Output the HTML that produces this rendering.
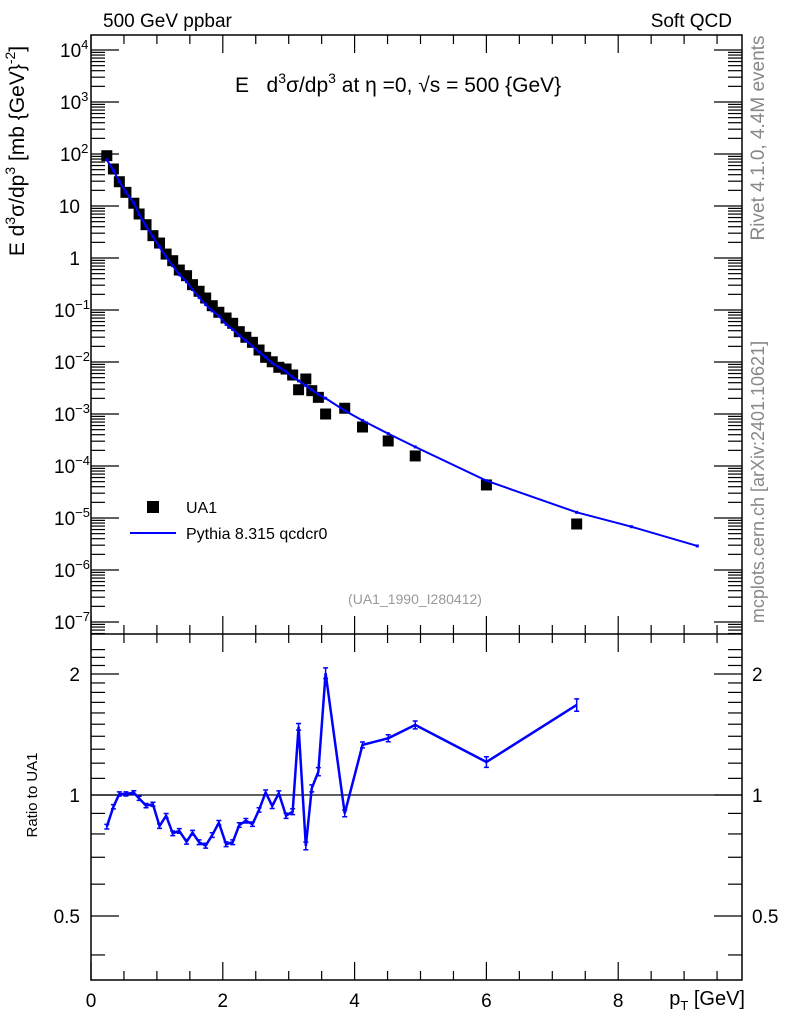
<!DOCTYPE html>
<html><head><meta charset="utf-8"><style>
html,body{margin:0;padding:0;background:#fff;}
svg text{font-family:"Liberation Sans",sans-serif;}
</style></head><body>
<svg id="chart" width="786" height="1024" viewBox="0 0 786 1024" xmlns="http://www.w3.org/2000/svg">
<g id="axes"></g>
<g id="marks"></g>
<text x="103" y="27" font-size="19">500 GeV ppbar</text>
<text x="732" y="27" font-size="19" text-anchor="end">Soft QCD</text>
<text x="235" y="92" font-size="21">E&#160;&#160;&#160;d<tspan font-size="14" dy="-9">3</tspan><tspan dy="9">σ/dp</tspan><tspan font-size="14" dy="-9">3</tspan><tspan dy="9"> at η =0, √s = 500 {GeV}</tspan></text>
<text transform="translate(24,151) rotate(-90)" font-size="21" text-anchor="middle">E d<tspan font-size="14" dy="-9">3</tspan><tspan dy="9">σ/dp</tspan><tspan font-size="14" dy="-9">3</tspan><tspan dy="9"> [mb {GeV}</tspan><tspan font-size="14" dy="-9">-2</tspan><tspan dy="9">]</tspan></text>
<text transform="translate(764,138) rotate(-90)" font-size="19" fill="#888" text-anchor="middle">Rivet 4.1.0,  4.4M events</text>
<text transform="translate(764,482) rotate(-90)" font-size="18" fill="#888" text-anchor="middle">mcplots.cern.ch [arXiv:2401.10621]</text>
<text x="415" y="604" font-size="14" fill="#999" text-anchor="middle">(UA1_1990_I280412)</text>
<rect x="147" y="501" width="12" height="12" fill="#000"/>
<text x="186" y="513" font-size="16">UA1</text>
<line x1="130" y1="533" x2="176" y2="533" stroke="#0000ff" stroke-width="2"/>
<text x="186" y="539" font-size="16">Pythia 8.315 qcdcr0</text>
<text transform="translate(37,795) rotate(-90)" font-size="15" text-anchor="middle">Ratio to UA1</text>
<text x="745" y="1005" font-size="20" text-anchor="end">p<tspan font-size="13" dy="5">T</tspan><tspan dy="-5"> [GeV]</tspan></text>
</svg>
<script>
const xs = [0.24,0.34,0.43,0.53,0.65,0.73,0.835,0.94,1.04,1.14,1.24,1.34,1.45,1.54,1.64,1.74,1.84,1.94,2.05,2.15,2.25,2.35,2.45,2.55,2.65,2.75,2.85,2.96,3.06,3.15,3.26,3.35,3.45,3.56,3.85,4.12,4.51,4.92,6.0,7.37];
const ua1 = [92.7,51.5,29.3,18.3,11.3,7.02,4.37,2.69,1.94,1.19,0.887,0.587,0.457,0.307,0.229,0.170,0.121,0.0904,0.0701,0.0555,0.0383,0.0299,0.0239,0.0170,0.0123,0.0101,0.00791,0.00733,0.00562,0.00293,0.00471,0.00281,0.00209,0.00100,0.00129,5.62e-4,3.03e-4,1.56e-4,4.32e-5,7.67e-6];
const ratio = [0.834,0.935,1.006,1.006,1.013,0.981,0.941,0.948,0.837,0.888,0.803,0.814,0.765,0.806,0.763,0.748,0.795,0.853,0.754,0.763,0.842,0.863,0.846,0.918,1.015,0.939,1.01,0.888,0.909,1.478,0.747,1.039,1.143,2.01,0.90,1.332,1.384,1.494,1.208,1.675];
const ratioErr = [0.006,0.006,0.006,0.006,0.006,0.006,0.006,0.006,0.006,0.006,0.006,0.006,0.006,0.006,0.006,0.006,0.006,0.006,0.006,0.006,0.006,0.006,0.006,0.006,0.008,0.008,0.008,0.008,0.01,0.02,0.012,0.015,0.02,0.05,0.012,0.015,0.02,0.025,0.03,0.05];
const pyExtraX = [8.2,9.2];
const pyExtraY = [6.8e-6,2.9e-6];
const xTicks = [0,2,4,6,8];
const yExps = [-7,-6,-5,-4,-3,-2,-1,0,1,2,3,4];
const yLabels = ["10","10","10","10","10","10","10","1","10","10","10","10"];
const ySups = ["−7","−6","−5","−4","−3","−2","−1","","","2","3","4"];
const rTicks = [0.5,1,2];
const rLabels = ["0.5","1","2"];

const L=91,R=742,T=35,M=634,B=980;
const X = v => L + v*65.9;
const Y = v => 258 - Math.log10(v)*52;
const RY = v => 795 - Math.log2(v)*121;
const NS="http://www.w3.org/2000/svg";
const axes=document.getElementById('axes'), marks=document.getElementById('marks');
function mk(tag,attrs,parent){const e=document.createElementNS(NS,tag);for(const k in attrs)e.setAttribute(k,attrs[k]);parent.appendChild(e);return e;}

let fr=mk('rect',{x:L,y:T,width:R-L,height:B-T,fill:'none',stroke:'#000','stroke-width':1.5},axes);


let sep=mk('line',{x1:L,y1:M,x2:R,y2:M,stroke:'#000','stroke-width':1.5},axes);


let one=mk('line',{x1:L,y1:RY(1),x2:R,y2:RY(1),stroke:'#000','stroke-width':1.2},axes);



for(let v=0;v<=9.8;v+=0.5){
  const major = Math.abs(v%2)<1e-6;
  const len = major?18:9;
  for(const [y0,d] of [[T,1],[M,-1],[M,1],[B,-1]]){
    mk('line',{x1:X(v),y1:y0,x2:X(v),y2:y0+d*len,stroke:'#000','stroke-width':1.2},axes);
  }
}
xTicks.forEach((v,i)=>{
  const t=mk('text',{x:X(v),y:1007,'font-size':19,'text-anchor':'middle'},axes);
  t.textContent=String(v);
  
  
});
for(let e=-8;e<=4;e++){
  for(let m=1;m<10;m++){
    const y=Y(m*Math.pow(10,e));
    if(y<T||y>M)continue;
    const len=m===1?28:14;
    mk('line',{x1:L,y1:y,x2:L+len,y2:y,stroke:'#000','stroke-width':1.2},axes);
    mk('line',{x1:R,y1:y,x2:R-len,y2:y,stroke:'#000','stroke-width':1.2},axes);
  }
}
yExps.forEach((e,i)=>{
  const y=Y(Math.pow(10,e));
  const t=mk('text',{x:80,y:y+7,'font-size':19,'text-anchor':'end'},axes);
  if(e===0){t.textContent='1';}
  else if(e===1){t.textContent='10';}
  else{
    t.textContent=yLabels[i];
    const s=document.createElementNS(NS,'tspan');s.setAttribute('font-size',13);s.setAttribute('dy',-8);s.textContent=ySups[i];t.appendChild(s);
    t.setAttribute('text-anchor','start');t.setAttribute('x',e<0?54:60);
  }
  
  
});
for(let v=0.4;v<=2.4;v+=0.1){
  const y=RY(v); if(y<M||y>B)continue;
  const major=[0.5,1,2].some(a=>Math.abs(a-v)<1e-6);
  const len=major?28:14;
  mk('line',{x1:L,y1:y,x2:L+len,y2:y,stroke:'#000','stroke-width':1.2},axes);
  mk('line',{x1:R,y1:y,x2:R-len,y2:y,stroke:'#000','stroke-width':1.2},axes);
}
rTicks.forEach((v,i)=>{
  for(const [x,a] of [[80,'end'],[752,'start']]){
    const t=mk('text',{x:x,y:RY(v)+7,'font-size':19,'text-anchor':a},axes);
    t.textContent=rLabels[i];
    
    
  }
});

const pyX=xs.concat(pyExtraX), pyY=ua1.map((v,i)=>v*ratio[i]).concat(pyExtraY);
xs.forEach((x,i)=>{
  const r=mk('rect',{x:X(x)-5.5,y:Y(ua1[i])-5.5,width:11,height:11,fill:'#000'},marks);
  
  
});
let pl=mk('polyline',{points:pyX.map((x,i)=>X(x)+','+Y(pyY[i])).join(' '),fill:'none',stroke:'#0000ff','stroke-width':2},marks);


pyX.forEach((x,i)=>{
  const c=mk('rect',{x:X(x)-1.5,y:Y(pyY[i])-1.5,width:3,height:3,fill:'#0000ff'},marks);
  
  
});
let rl=mk('polyline',{points:xs.map((x,i)=>X(x)+','+RY(ratio[i])).join(' '),fill:'none',stroke:'#0000ff','stroke-width':2.5},marks);


xs.forEach((x,i)=>{
  const y1=RY(ratio[i]+ratioErr[i]), y2=RY(ratio[i]-ratioErr[i]);
  const e=mk('path',{d:`M${X(x)},${y1-1}V${y2+1}M${X(x)-2.5},${y1-1}h5M${X(x)-2.5},${y2+1}h5`,stroke:'#0000ff','stroke-width':1.5,fill:'none'},marks);
  
  
});
</script>
</body></html>
